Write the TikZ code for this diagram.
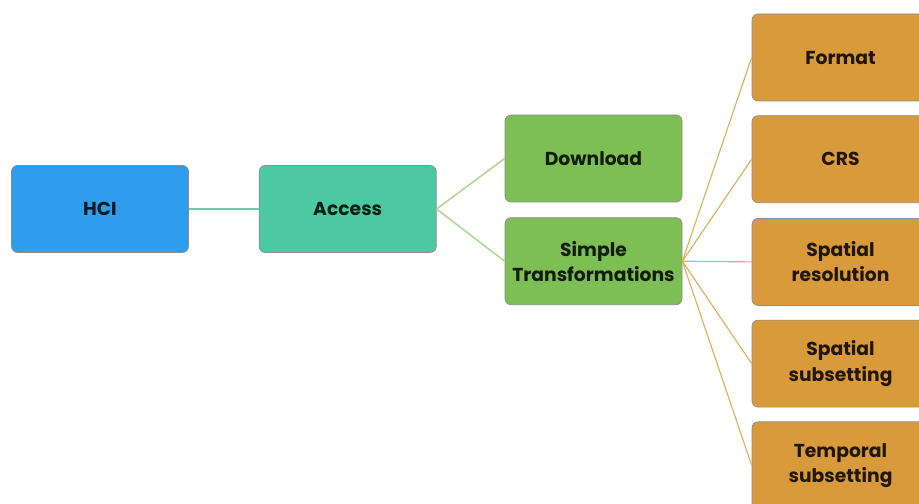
\documentclass[tikz,border=0pt]{standalone}
\usepackage{fontspec}
\setmainfont{Poppins}
\usepackage{tikz}
\usetikzlibrary{positioning}
\definecolor{hciblue}{HTML}{2E9DEB}
\definecolor{accessteal}{HTML}{4CC8A3}
\definecolor{leafgreen}{HTML}{7DBE55}
\definecolor{ochre}{HTML}{D99A3B}

\begin{document}
\begin{tikzpicture}
	\tikzstyle{box}=[draw=black!45, line width=0.6pt, rounded corners=0.18cm, minimum width=5.31cm, minimum height=2.61cm, align=center, font=\fontsize{16}{21.5}\selectfont\bfseries, inner sep=0pt]
	\tikzstyle{link}=[line width=1.4pt]
	
	\useasboundingbox (0,0) rectangle (27.57,15.09);
	\clip (0,0) rectangle (27.57,15.09);
	
	\node [box, fill=hciblue, text=hciblue!15!black] (HCI) at (3.0,8.82) {HCI};
	\node [box, fill=accessteal, text=accessteal!15!black, right=2.1cm of HCI] (Access) {Access};
	
	\node [box, fill=leafgreen, text=leafgreen!15!black] (Download) at (17.805,10.335) {Download};
	\node [box, fill=leafgreen, text=leafgreen!15!black, below=0.45cm of Download] (Simple) {Simple\\Transformations};
	
	\node [box, fill=ochre, text=ochre!15!black] (Format) at (25.215,13.365) {Format};
	\node [box, fill=ochre, text=ochre!15!black, below=0.42cm of Format] (CRS) {CRS};
	\node [box, fill=ochre, text=ochre!15!black, below=0.45cm of CRS] (Resolution) {Spatial\\resolution};
	\node [box, fill=ochre, text=ochre!15!black, below=0.42cm of Resolution] (Subset) {Spatial\\subsetting};
	\node [box, fill=ochre, text=ochre!15!black, below=0.42cm of Subset] (Temporal) {Temporal\\subsetting};
	
	\draw [link, accessteal!85!white] (HCI.east) -- (Access.west);
	\foreach \n in {Download, Simple}
		\draw [link, leafgreen!60!white] (Access.east) -- (\n.west);
	\foreach \n in {Format, CRS, Resolution, Subset, Temporal}
		\draw [ochre!80!white, line width=1pt] (Simple.east) -- (\n.west);
\end{tikzpicture}
\end{document}
